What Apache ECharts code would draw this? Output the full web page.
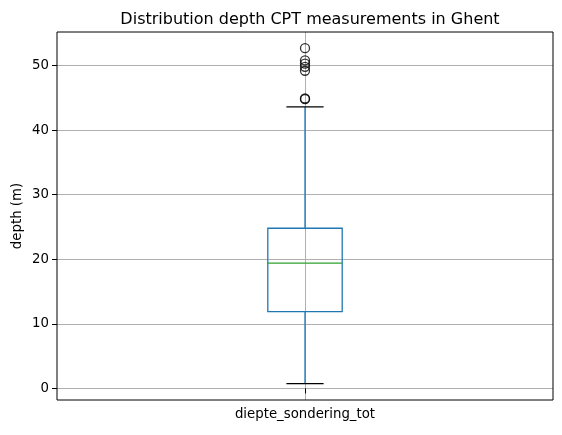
<!DOCTYPE html>
<html><head><meta charset="utf-8">
<script src="https://cdn.jsdelivr.net/npm/echarts@6/dist/echarts.min.js"></script>
<style>html,body{margin:0;padding:0;background:#fff}#c{width:562px;height:435px}</style>
</head><body><div id="c"></div>
<script>
const categories = ['diepte_sondering_tot'];
const positions = [1];
const yTicks = [0, 10, 20, 30, 40, 50];
// [lower whisker, Q1, median, Q3, upper whisker]
const boxStats = [[0.75, 11.9, 19.4, 24.8, 43.6]];
const outliers = [52.7, 50.8, 50.3, 49.8, 49.2, 44.9, 44.8];

const chart = echarts.init(document.getElementById('c'));
const F = 'DejaVu Sans';
chart.setOption({
  animation: false,
  backgroundColor: '#fff',
  title: {
    text: 'Distribution depth CPT measurements in Ghent',
    left: 305, top: 7, textAlign: 'center',
    textStyle: {fontFamily: F, fontSize: 16, fontWeight: 'normal', color: '#000'}
  },
  grid: {left: 57, right: 9, top: 32, bottom: 35, show: true, borderColor: '#000', borderWidth: 1, backgroundColor: 'transparent', z: 10},
  xAxis: {
    type: 'value', min: 0.5, max: 1.5,
    axisLine: {show: false},
    axisTick: {show: true, length: 5, lineStyle: {color: '#000'}, customValues: positions},
    axisLabel: {fontFamily: F, fontSize: 13.3, color: '#000', margin: 8, customValues: positions,
      formatter: v => { const i = positions.indexOf(v); return i >= 0 ? categories[i] : ''; }},
    splitLine: {show: true, lineStyle: {color: '#b0b0b0', width: 1}}
  },
  yAxis: {
    type: 'value', min: -1.8, max: 55.2,
    name: 'depth (m)', nameLocation: 'middle', nameGap: 33, nameMoveOverlap: false,
    nameTextStyle: {fontFamily: F, fontSize: 13.3, color: '#000'},
    axisLine: {show: false},
    axisTick: {show: true, length: 5, lineStyle: {color: '#000'}, customValues: yTicks},
    axisLabel: {fontFamily: F, fontSize: 13.3, color: '#000', margin: 8, customValues: yTicks},
    splitLine: {show: true, lineStyle: {color: '#b0b0b0', width: 1}}
  },
  series: [
    {
      type: 'custom',
      data: positions.map((p, i) => [p].concat(boxStats[i])),
      renderItem: function (params, api) {
        const x = api.value(0);
        const unit = api.size([1, 0])[0];
        const bw = unit * 0.15, cw = unit * 0.075;
        const pLo = api.coord([x, api.value(1)]);
        const pQ1 = api.coord([x, api.value(2)]);
        const pMed = api.coord([x, api.value(3)]);
        const pQ3 = api.coord([x, api.value(4)]);
        const pHi = api.coord([x, api.value(5)]);
        const cx = pLo[0];
        const blue = {stroke: '#1f77b4', lineWidth: 1.3, fill: null};
        const black = {stroke: '#000', lineWidth: 1.3};
        return {type: 'group', children: [
          {type: 'line', shape: {x1: cx, y1: pQ1[1], x2: cx, y2: pLo[1]}, style: blue},
          {type: 'line', shape: {x1: cx, y1: pQ3[1], x2: cx, y2: pHi[1]}, style: blue},
          {type: 'line', shape: {x1: cx - cw/2, y1: pLo[1], x2: cx + cw/2, y2: pLo[1]}, style: black},
          {type: 'line', shape: {x1: cx - cw/2, y1: pHi[1], x2: cx + cw/2, y2: pHi[1]}, style: black},
          {type: 'rect', shape: {x: cx - bw/2, y: pQ3[1], width: bw, height: pQ1[1] - pQ3[1]}, style: {stroke: '#1f77b4', lineWidth: 1.3, fill: 'none'}},
          {type: 'line', shape: {x1: cx - bw/2, y1: pMed[1], x2: cx + bw/2, y2: pMed[1]}, style: {stroke: '#2ca02c', lineWidth: 1.3}}
        ]};
      },
      z: 3
    },
    {
      type: 'scatter',
      data: outliers.map(v => [positions[0], v]),
      symbol: 'circle', symbolSize: 9,
      itemStyle: {color: 'transparent', borderColor: '#000', borderWidth: 1.3},
      z: 4
    }
  ]
});
</script></body></html>
